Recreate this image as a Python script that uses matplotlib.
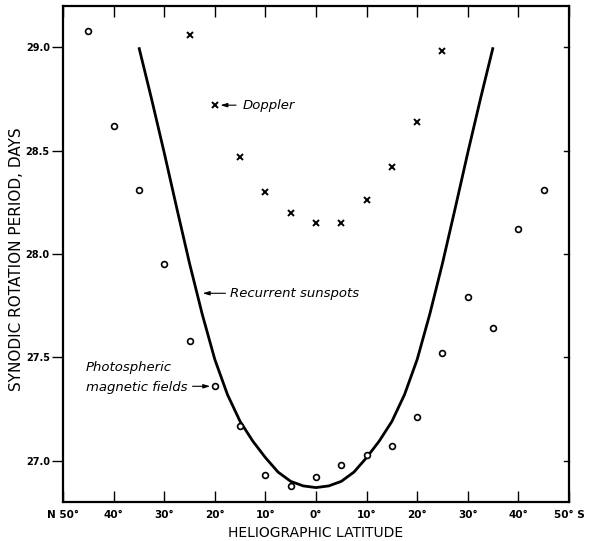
import matplotlib
matplotlib.use("Agg")
import matplotlib.pyplot as plt

# Photospheric magnetic fields (circles); negative latitude = North
mag_lat = [-45, -40, -35, -30, -25, -20, -15, -10, -5, 0, 5, 10, 15, 20, 25, 30, 35, 40, 45]
mag_period = [29.08, 28.62, 28.31, 27.95, 27.58, 27.36, 27.17, 26.93, 26.88, 26.92,
              26.98, 27.03, 27.07, 27.21, 27.52, 27.79, 27.64, 28.12, 28.31]

# Doppler (crosses)
dop_lat = [-25, -20, -15, -10, -5, 0, 5, 10, 15, 20, 25]
dop_period = [29.06, 28.72, 28.47, 28.30, 28.20, 28.15, 28.15, 28.26, 28.42, 28.64, 28.98]

# Recurrent sunspots (curve), read at 2.5 degree steps
spot_lat = [-35, -32.5, -30, -27.5, -25, -22.5, -20, -17.5, -15, -12.5, -10, -7.5, -5, -2.5,
            0, 2.5, 5, 7.5, 10, 12.5, 15, 17.5, 20, 22.5, 25, 27.5, 30, 32.5, 35]
spot_period = [29.00, 28.75, 28.49, 28.22, 27.955, 27.71, 27.49, 27.32, 27.19, 27.095, 27.015,
               26.945, 26.90, 26.878, 26.870, 26.878, 26.90, 26.945, 27.015, 27.095, 27.19,
               27.32, 27.49, 27.71, 27.955, 28.22, 28.49, 28.75, 29.00]

xticks = [-50, -40, -30, -20, -10, 0, 10, 20, 30, 40, 50]
xticklabels = ["N 50°", "40°", "30°", "20°", "10°", "0°", "10°", "20°", "30°", "40°", "50° S"]
yticks = [27.0, 27.5, 28.0, 28.5, 29.0]
yticklabels = ["27.0", "27.5", "28.0", "28.5", "29.0"]

fig = plt.figure(figsize=(5.89, 5.41), dpi=100)
ax = fig.add_axes([0.107, 0.072, 0.859, 0.917])

ax.plot(spot_lat, spot_period, color="black", lw=2.0, solid_capstyle="butt",
        solid_joinstyle="round")
ax.plot(mag_lat, mag_period, linestyle="none", marker="o", ms=4.2, mfc="white",
        mec="black", mew=1.2)
ax.plot(dop_lat, dop_period, linestyle="none", marker="x", ms=4.4, color="black", mew=1.4)

ax.set_xlim(-50, 50)
ax.set_ylim(26.8, 29.2)

ax.set_xticks(xticks)
ax.set_xticklabels(xticklabels, fontsize=7.5, fontweight="bold")
ax.set_yticks(yticks)
ax.set_yticklabels(yticklabels, fontsize=7, fontweight="bold")

ax.tick_params(axis="x", which="both", direction="in", top=True, bottom=True,
               length=8, width=1.0, pad=6)
ax.tick_params(axis="y", which="both", direction="out", left=True, right=False,
               length=8, width=1.0, pad=1.5)
for s in ax.spines.values():
    s.set_linewidth(1.6)

# right-side inward ticks
for yv in yticks:
    ax.plot([49.0, 50], [yv, yv], color="black", lw=1.0, clip_on=False)

ax.set_xlabel("HELIOGRAPHIC LATITUDE", fontsize=10, labelpad=4)
ax.set_ylabel("SYNODIC ROTATION PERIOD, DAYS", fontsize=11)
ax.yaxis.set_label_coords(-0.077, 0.49)

arrow = dict(arrowstyle="-|>,head_length=0.4,head_width=0.12", color="black", lw=0.8,
             shrinkA=0, shrinkB=0)
ax.annotate("", xy=(-18.9, 28.72), xytext=(-15.8, 28.72), arrowprops=arrow)
ax.text(-14.5, 28.72, "Doppler", fontsize=9.5, style="italic", va="center", ha="left")

ax.annotate("", xy=(-22.4, 27.81), xytext=(-17.9, 27.81), arrowprops=arrow)
ax.text(-17.0, 27.81, "Recurrent sunspots", fontsize=9.5, style="italic", va="center", ha="left")

ax.text(-45.5, 27.45, "Photospheric", fontsize=9.5, style="italic", va="center", ha="left")
ax.text(-45.5, 27.355, "magnetic fields", fontsize=9.5, style="italic", va="center", ha="left")
ax.annotate("", xy=(-20.9, 27.36), xytext=(-24.4, 27.36), arrowprops=arrow)

fig.savefig("out.png", dpi=100)
